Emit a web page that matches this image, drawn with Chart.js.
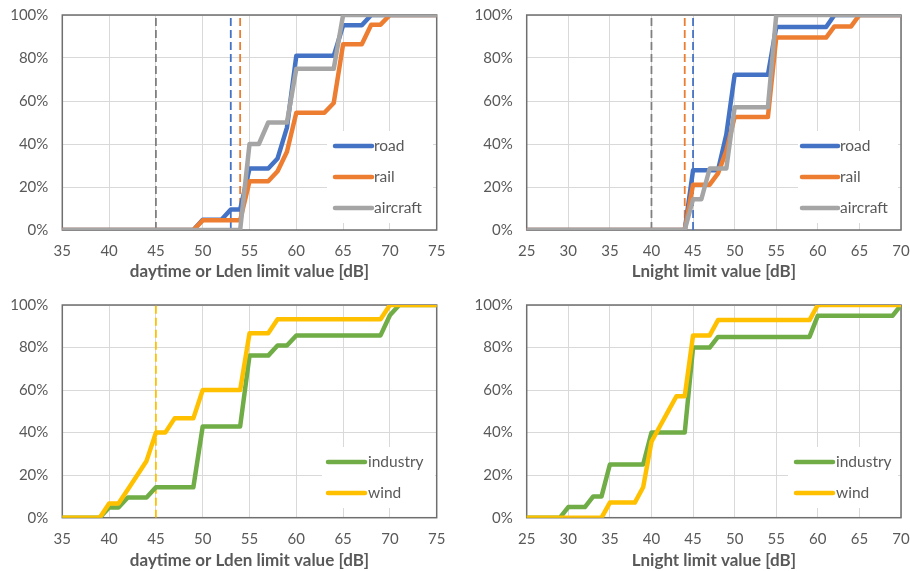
<!DOCTYPE html>
<html><head><meta charset="utf-8">
<script src="https://cdn.jsdelivr.net/npm/chart.js@4.4.0/dist/chart.umd.min.js"></script>
<style>
html,body{margin:0;padding:0;background:#fff;width:910px;height:571px;overflow:hidden}
canvas{position:absolute}
</style></head><body>
<canvas id="c1" width="455" height="285" style="left:0;top:0"></canvas>
<canvas id="c2" width="455" height="285" style="left:455px;top:0"></canvas>
<canvas id="c3" width="455" height="286" style="left:0;top:285px"></canvas>
<canvas id="c4" width="455" height="286" style="left:455px;top:285px"></canvas>
<script>
// ---- data ----
const dbDay = [35,36,37,38,39,40,41,42,43,44,45,46,47,48,49,50,51,52,53,54,55,56,57,58,59,60,61,62,63,64,65,66,67,68,69,70,71,72,73,74,75];
const dbNight = [25,26,27,28,29,30,31,32,33,34,35,36,37,38,39,40,41,42,43,44,45,46,47,48,49,50,51,52,53,54,55,56,57,58,59,60,61,62,63,64,65,66,67,68,69,70];

const roadDay = [0,0,0,0,0,0,0,0,0,0,0,0,0,0,0, 4.8,4.8,4.8,9.5,9.5, 28.6,28.6,28.6,33.3,47.6, 81,81,81,81,81, 95.2,95.2,95.2,100,100, 100,100,100,100,100,100];
const railDay = [0,0,0,0,0,0,0,0,0,0,0,0,0,0,0, 4.5,4.5,4.5,4.5,4.5, 22.7,22.7,22.7,27.3,36.4, 54.5,54.5,54.5,54.5,59.1, 86.4,86.4,86.4,95.5,95.5, 100,100,100,100,100,100];
const aircraftDay = [0,0,0,0,0,0,0,0,0,0,0,0,0,0,0, 0,0,0,0,0, 40,40,50,50,50, 75,75,75,75,75, 100,100,100,100,100, 100,100,100,100,100,100];

const roadNight = [0,0,0,0,0,0,0,0,0,0,0,0,0,0,0,0,0,0,0,0, 27.8,27.8,27.8,27.8,44.4, 72.2,72.2,72.2,72.2,72.2, 94.4,94.4,94.4,94.4,94.4, 94.4,94.4,100,100,100, 100,100,100,100,100,100];
const railNight = [0,0,0,0,0,0,0,0,0,0,0,0,0,0,0,0,0,0,0,0, 21.1,21.1,21.1,26.3,36.8, 52.6,52.6,52.6,52.6,52.6, 89.5,89.5,89.5,89.5,89.5, 89.5,89.5,94.7,94.7,94.7, 100,100,100,100,100,100];
const aircraftNight = [0,0,0,0,0,0,0,0,0,0,0,0,0,0,0,0,0,0,0,0, 14.3,14.3,28.6,28.6,28.6, 57.1,57.1,57.1,57.1,57.1, 100,100,100,100,100, 100,100,100,100,100, 100,100,100,100,100,100];

const industryDay = [0,0,0,0,0, 4.8,4.8,9.5,9.5,9.5, 14.3,14.3,14.3,14.3,14.3, 42.9,42.9,42.9,42.9,42.9, 76.2,76.2,76.2,81,81, 85.7,85.7,85.7,85.7,85.7, 85.7,85.7,85.7,85.7,85.7, 95.2,100,100,100,100,100];
const windDay = [0,0,0,0,0, 6.7,6.7,13.3,20,26.7, 40,40,46.7,46.7,46.7, 60,60,60,60,60, 86.7,86.7,86.7,93.3,93.3, 93.3,93.3,93.3,93.3,93.3, 93.3,93.3,93.3,93.3,93.3, 100,100,100,100,100,100];

const industryNight = [0,0,0,0,0, 5,5,5,10,10, 25,25,25,25,25, 40,40,40,40,40, 80,80,80,85,85, 85,85,85,85,85, 85,85,85,85,85, 95,95,95,95,95, 95,95,95,95,95, 100];
const windNight = [0,0,0,0,0, 0,0,0,0,0, 7.1,7.1,7.1,7.1,14.3, 35.7,42.9,50,57.1,57.1, 85.7,85.7,85.7,92.9,92.9, 92.9,92.9,92.9,92.9,92.9, 92.9,92.9,92.9,92.9,92.9, 100,100,100,100,100, 100,100,100,100,100, 100];

// limit values (dashed vertical lines)
const dayLimitValues = [45, 53, 54];
const dayLimitNames = ['general', 'road', 'rail'];
const nightLimitValues = [40, 44, 45];
const nightLimitNames = ['general', 'rail', 'road'];
const windDayLimitValues = [45];
const windDayLimitNames = ['wind'];

const yTicks = [0, 20, 40, 60, 80, 100];
const dayTitle = 'daytime or Lden limit value [dB]';
const nightTitle = 'Lnight limit value [dB]';

// ---- styling ----
const COLORS = { road:'#4472C4', rail:'#ED7D31', aircraft:'#A5A5A5', industry:'#70AD47', wind:'#FFC000', general:'#7F7F7F' };
const FONT = 'Lato, "Open Sans", "Liberation Sans", sans-serif';
Chart.defaults.font.family = FONT;
Chart.defaults.color = '#595959';

const framePlugin = {
  id: 'frame',
  beforeDatasetsDraw(chart) {
    const {ctx, chartArea: a} = chart;
    ctx.save();
    ctx.strokeStyle = '#6f6f6f';
    ctx.lineWidth = 1.5;
    ctx.strokeRect(a.left, a.top, a.right - a.left, a.bottom - a.top);
    ctx.restore();
  },
  afterDatasetsDraw(chart, args, opts) {
    const L = opts.legend; if (!L) return;
    const ctx = chart.ctx;
    ctx.save();
    ctx.fillStyle = '#ffffff';
    ctx.fillRect(L.box[0], L.box[1], L.box[2] - L.box[0], L.box[3] - L.box[1]);
    const items = chart.data.datasets.filter(d => !d.isLimit);
    items.forEach((d, i) => {
      const y = L.rows[i];
      ctx.strokeStyle = d.borderColor;
      ctx.lineWidth = 4.5;
      ctx.lineCap = 'round';
      ctx.beginPath(); ctx.moveTo(L.line[0], y); ctx.lineTo(L.line[1], y); ctx.stroke();
      ctx.fillStyle = '#595959';
      ctx.font = '15.5px ' + FONT;
      ctx.textBaseline = 'middle';
      ctx.textAlign = 'left';
      ctx.fillText(d.label, L.text, y);
    });
    ctx.restore();
  }
};

function makeChart(id, p) {
  const datasets = [];
  const n = p.series.length;
  p.series.forEach((s, i) => {
    datasets.push({
      label: s.name,
      data: p.xs.map((x, k) => ({x: x, y: s.values[k]})),
      borderColor: COLORS[s.name],
      backgroundColor: COLORS[s.name],
      borderWidth: 4.5,
      pointRadius: 0,
      borderJoinStyle: 'round',
      borderCapStyle: 'round',
      tension: 0,
      order: n - i + 1
    });
  });
  p.limits.forEach((v, i) => {
    datasets.push({
      label: 'limit ' + p.limitNames[i],
      isLimit: true,
      data: [{x: v, y: 0}, {x: v, y: 100}],
      borderColor: COLORS[p.limitNames[i]],
      borderWidth: 1.8,
      borderDash: [8, 4],
      pointRadius: 0,
      order: 50 + i
    });
  });
  return new Chart(document.getElementById(id), {
    type: 'line',
    data: { datasets },
    options: {
      responsive: false,
      animation: false,
      events: [],
      layout: { padding: { left: 0, top: p.padTop, right: p.padRight, bottom: 0 } },
      plugins: {
        legend: { display: false },
        tooltip: { enabled: false },
        frame: { legend: p.legend }
      },
      scales: {
        x: {
          type: 'linear', min: p.xs[0], max: p.xs[p.xs.length - 1],
          border: { display: false },
          grid: { color: '#d9d9d9', lineWidth: 1, drawTicks: false },
          ticks: { stepSize: 5, padding: 12, font: { size: 15 }, color: '#595959', maxRotation: 0 },
          title: { display: true, text: p.title, font: { size: 17, weight: 'bold' }, color: '#595959', padding: { top: 0, bottom: p.titlePad } },
          afterFit(s) { s.height = p.xHeight; s.paddingLeft = 0; s.paddingRight = 0; }
        },
        y: {
          min: 0, max: 100,
          border: { display: false },
          grid: { color: '#d9d9d9', lineWidth: 1, drawTicks: false },
          afterBuildTicks(s) { s.ticks = yTicks.map(v => ({value: v})); },
          ticks: { padding: 14, font: { size: 15 }, color: '#595959', callback: v => v + '%' },
          afterFit(s) { s.width = p.yWidth; s.paddingTop = 0; s.paddingBottom = 0; }
        }
      }
    },
    plugins: [framePlugin]
  });
}

makeChart('c1', {
  xs: dbDay,
  series: [{name:'road', values: roadDay}, {name:'rail', values: railDay}, {name:'aircraft', values: aircraftDay}],
  limits: dayLimitValues, limitNames: dayLimitNames,
  title: dayTitle, padTop: 15, padRight: 18.3, yWidth: 62.3, xHeight: 55, titlePad: 3,
  legend: { box: [327, 131, 433, 223], line: [335, 372], text: 374, rows: [146, 177, 208] }
});
makeChart('c2', {
  xs: dbNight,
  series: [{name:'road', values: roadNight}, {name:'rail', values: railNight}, {name:'aircraft', values: aircraftNight}],
  limits: nightLimitValues, limitNames: nightLimitNames,
  title: nightTitle, padTop: 15, padRight: 9, yWidth: 71.7, xHeight: 55, titlePad: 3,
  legend: { box: [343, 131, 443, 223], line: [347, 383], text: 385, rows: [146, 177, 208] }
});
makeChart('c3', {
  xs: dbDay,
  series: [{name:'industry', values: industryDay}, {name:'wind', values: windDay}],
  limits: windDayLimitValues, limitNames: windDayLimitNames,
  title: dayTitle, padTop: 20, padRight: 18.3, yWidth: 62.3, xHeight: 53.3, titlePad: 0,
  legend: { box: [322, 162, 435, 223], line: [328, 365], text: 368, rows: [177, 208] }
});
makeChart('c4', {
  xs: dbNight,
  series: [{name:'industry', values: industryNight}, {name:'wind', values: windNight}],
  limits: [], limitNames: [],
  title: nightTitle, padTop: 20, padRight: 9, yWidth: 71.7, xHeight: 53.3, titlePad: 0,
  legend: { box: [333, 162, 443, 223], line: [341, 378], text: 381, rows: [177, 208] }
});
</script>
</body></html>
